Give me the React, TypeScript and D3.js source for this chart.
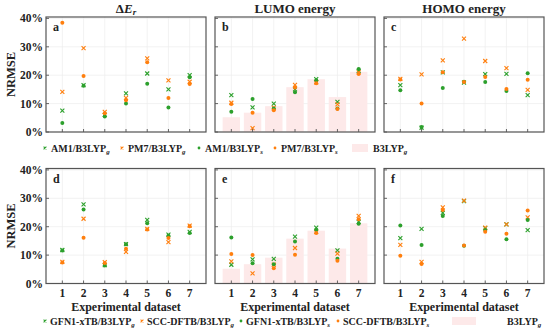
import React from 'react';
import * as d3 from 'd3';

const categories = ['1', '2', '3', '4', '5', '6', '7'];
const yTicks = [0, 10, 20, 30, 40];

// B3LYP_g bars (LUMO energy)
const b3lypLUMO = [5.2, 6.8, 9.1, 15.8, 18.6, 12.3, 21.2];

// Panel a: ΔE_r (semi-empirical)
const aAM1g = [7.5, 16.5, 6.0, 13.6, 20.6, 15.0, 20.0];
const aPM7g = [14.1, 29.5, 7.1, 12.0, 25.9, 18.2, 17.7];
const aAM1s = [3.2, 16.3, 5.5, 10.0, 17.0, 8.6, 19.3];
const aPM7s = [38.5, 19.7, 6.6, 11.2, 24.6, 12.0, 16.9];

// Panel b: LUMO energy
const bAM1g = [13.0, 8.7, 10.0, 15.0, 18.6, 10.6, 21.5];
const bPM7g = [10.3, 1.4, 8.6, 16.6, 17.5, 9.7, 21.0];
const bAM1s = [7.1, 11.6, 8.3, 14.0, 18.2, 8.3, 22.2];
const bPM7s = [9.9, 6.8, 7.7, 15.7, 17.2, 8.1, 20.4];

// Panel c: HOMO energy
const cAM1g = [16.5, 1.5, 21.0, 17.4, 20.4, 20.5, 13.0];
const cPM7g = [18.7, 20.3, 25.2, 32.9, 25.0, 22.5, 14.8];
const cAM1s = [14.7, 1.8, 15.5, 17.7, 17.6, 14.4, 20.7];
const cPM7s = [18.5, 10.0, 21.0, 17.6, 19.4, 15.1, 18.4];

// Panel d: ΔE_r (xTB / DFTB)
const dGFNg = [11.8, 27.9, 6.5, 13.9, 22.4, 17.2, 18.2];
const dSCCg = [7.6, 22.8, 7.5, 11.1, 19.2, 14.6, 20.4];
const dGFNs = [11.6, 26.1, 6.3, 13.8, 21.2, 16.8, 17.8];
const dSCCs = [7.4, 16.1, 7.2, 12.2, 19.0, 16.0, 20.2];

// Panel e: LUMO energy
const eGFNg = [6.6, 8.5, 8.7, 16.5, 19.7, 11.7, 21.7];
const eSCCg = [7.8, 3.6, 6.6, 12.5, 18.2, 10.5, 23.8];
const eGFNs = [16.2, 7.1, 6.8, 14.8, 18.8, 8.7, 21.0];
const eSCCs = [10.4, 10.0, 5.4, 10.1, 17.8, 8.0, 22.6];

// Panel f: HOMO energy
const fGFNg = [16.0, 19.2, 24.9, 29.0, 19.5, 20.8, 18.8];
const fSCCg = [13.6, 7.6, 26.8, 29.2, 19.7, 20.8, 23.3];
const fGFNs = [20.4, 13.6, 23.8, 13.3, 18.8, 15.6, 22.4];
const fSCCs = [9.8, 6.9, 25.9, 13.4, 18.2, 17.5, 25.7];

const GREEN = '#2ca02c';
const ORANGE = '#ff7f0e';
const PINK = '#fde9e9';
const FONT = '"Liberation Serif", "DejaVu Serif", serif';

const panelLefts = [46, 215, 384];
const panelW = 160;
const rows = [
  { top: 17, bottom: 132 },
  { top: 168.5, bottom: 283.5 },
];

type Series = { values: number[]; color: string; marker: 'x' | 'o' };

const panels = [
  { row: 0, col: 0, label: 'a', bars: null as number[] | null, series: [
    { values: aAM1g, color: GREEN, marker: 'x' }, { values: aPM7g, color: ORANGE, marker: 'x' },
    { values: aAM1s, color: GREEN, marker: 'o' }, { values: aPM7s, color: ORANGE, marker: 'o' }] as Series[] },
  { row: 0, col: 1, label: 'b', bars: b3lypLUMO, series: [
    { values: bAM1g, color: GREEN, marker: 'x' }, { values: bPM7g, color: ORANGE, marker: 'x' },
    { values: bAM1s, color: GREEN, marker: 'o' }, { values: bPM7s, color: ORANGE, marker: 'o' }] as Series[] },
  { row: 0, col: 2, label: 'c', bars: null, series: [
    { values: cAM1g, color: GREEN, marker: 'x' }, { values: cPM7g, color: ORANGE, marker: 'x' },
    { values: cAM1s, color: GREEN, marker: 'o' }, { values: cPM7s, color: ORANGE, marker: 'o' }] as Series[] },
  { row: 1, col: 0, label: 'd', bars: null, series: [
    { values: dGFNg, color: GREEN, marker: 'x' }, { values: dSCCg, color: ORANGE, marker: 'x' },
    { values: dGFNs, color: GREEN, marker: 'o' }, { values: dSCCs, color: ORANGE, marker: 'o' }] as Series[] },
  { row: 1, col: 1, label: 'e', bars: b3lypLUMO, series: [
    { values: eGFNg, color: GREEN, marker: 'x' }, { values: eSCCg, color: ORANGE, marker: 'x' },
    { values: eGFNs, color: GREEN, marker: 'o' }, { values: eSCCs, color: ORANGE, marker: 'o' }] as Series[] },
  { row: 1, col: 2, label: 'f', bars: null, series: [
    { values: fGFNg, color: GREEN, marker: 'x' }, { values: fSCCg, color: ORANGE, marker: 'x' },
    { values: fGFNs, color: GREEN, marker: 'o' }, { values: fSCCs, color: ORANGE, marker: 'o' }] as Series[] },
];

const Marker = ({ x, y, color, marker, s = 2.0 }: { x: number; y: number; color: string; marker: 'x' | 'o'; s?: number }) =>
  marker === 'x' ? (
    <path d={`M${x - s},${y - s}L${x + s},${y + s}M${x - s},${y + s}L${x + s},${y - s}`} stroke={color} strokeWidth={1.1} fill="none" />
  ) : (
    <circle cx={x} cy={y} r={s} fill={color} />
  );

const topLegend = [
  { x: 45, marker: 'x', color: GREEN, text: 'AM1/B3LYP', sub: 'g' },
  { x: 122, marker: 'x', color: ORANGE, text: 'PM7/B3LYP', sub: 'g' },
  { x: 199, marker: 'o', color: GREEN, text: 'AM1/B3LYP', sub: 's' },
  { x: 275, marker: 'o', color: ORANGE, text: 'PM7/B3LYP', sub: 's' },
];
const bottomLegend = [
  { x: 45, marker: 'x', color: GREEN, text: 'GFN1-xTB/B3LYP', sub: 'g' },
  { x: 142, marker: 'x', color: ORANGE, text: 'SCC-DFTB/B3LYP', sub: 'g' },
  { x: 241, marker: 'o', color: GREEN, text: 'GFN1-xTB/B3LYP', sub: 's' },
  { x: 338, marker: 'o', color: ORANGE, text: 'SCC-DFTB/B3LYP', sub: 's' },
];

export default function App() {
  return (
    <svg width={550} height={331} style={{ position: 'absolute', left: 0, top: 0, background: '#fff' }} fontFamily={FONT} fontWeight="bold">
      {panels.map((p) => {
        const left = panelLefts[p.col];
        const r = rows[p.row];
        const x = d3.scalePoint<string>().domain(categories).range([left, left + panelW]).padding(0.77);
        const y = d3.scaleLinear().domain([0, 40.5]).range([r.bottom, r.top]);
        const bw = x.step() * 0.82;
        return (
          <g key={p.label}>
            {yTicks.map((t) => (
              <line key={'gy' + t} x1={left} x2={left + panelW} y1={y(t)} y2={y(t)} stroke="#ededed" strokeWidth={0.7} />
            ))}
            {categories.map((c) => (
              <line key={'gx' + c} x1={x(c)} x2={x(c)} y1={r.top} y2={r.bottom} stroke="#ededed" strokeWidth={0.7} />
            ))}
            {p.bars && p.bars.map((v, i) => (
              <rect key={'b' + i} x={x(categories[i])! - bw / 2} y={y(v)} width={bw} height={y(0) - y(v)} fill={PINK} />
            ))}
            {p.series.map((s, si) =>
              s.values.map((v, i) => (
                <Marker key={si + '-' + i} x={x(categories[i])!} y={y(v)} color={s.color} marker={s.marker} />
              ))
            )}
            {categories.map((c) => (
              <line key={'tx' + c} x1={x(c)} x2={x(c)} y1={r.bottom} y2={r.bottom - 3} stroke="#555" strokeWidth={0.9} />
            ))}
            {yTicks.map((t) => (
              <line key={'ty' + t} x1={left} x2={left + 3} y1={y(t)} y2={y(t)} stroke="#555" strokeWidth={0.9} />
            ))}
            <rect x={left} y={r.top} width={panelW} height={r.bottom - r.top} fill="none" stroke="#555" strokeWidth={1.2} />
            <text x={left + 7} y={r.top + 14} fontSize={12} fill="#222">{p.label}</text>
            {p.col === 0 && yTicks.map((t) => (
              <text key={'yl' + t} x={left - 3} y={y(t)} dy="0.35em" textAnchor="end" fontSize={11.5} fill="#222">{t}%</text>
            ))}
            {p.row === 1 && categories.map((c) => (
              <text key={'xl' + c} x={x(c)} y={r.bottom + 13} textAnchor="middle" fontSize={11.5} fill="#222">{c}</text>
            ))}
            {p.row === 1 && (
              <text x={left + panelW / 2} y={r.bottom + 27} textAnchor="middle" fontSize={12} fill="#222">Experimental dataset</text>
            )}
            {p.col === 0 && (
              <text transform={`translate(15,${(r.top + r.bottom) / 2}) rotate(-90)`} textAnchor="middle" fontSize={12.5} fill="#222">NRMSE</text>
            )}
          </g>
        );
      })}
      <text x={126} y={12.5} textAnchor="middle" fontSize={13} fill="#222">
        Δ<tspan fontStyle="italic">E</tspan><tspan fontStyle="italic" fontSize={9} dy={2.5}>r</tspan>
      </text>
      <text x={295} y={12.5} textAnchor="middle" fontSize={13} fill="#222">LUMO energy</text>
      <text x={464} y={12.5} textAnchor="middle" fontSize={13} fill="#222">HOMO energy</text>

      {topLegend.map((l, i) => (
        <g key={'tl' + i}>
          <Marker x={l.x} y={148} color={l.color} marker={l.marker as 'x' | 'o'} s={1.4} />
          <text x={l.x + 6} y={151.5} fontSize={10} fill="#222">{l.text}<tspan fontSize={7} dy={2} fontStyle="italic">{l.sub}</tspan></text>
        </g>
      ))}
      <rect x={352} y={144} width={16} height={8} fill={PINK} />
      <text x={373} y={151.5} fontSize={10} fill="#222">B3LYP<tspan fontSize={7} dy={2} fontStyle="italic">g</tspan></text>

      {bottomLegend.map((l, i) => (
        <g key={'bl' + i}>
          <Marker x={l.x} y={321} color={l.color} marker={l.marker as 'x' | 'o'} s={1.4} />
          <text x={l.x + 5} y={324.5} fontSize={10} fill="#222">{l.text}<tspan fontSize={7} dy={2} fontStyle="italic">{l.sub}</tspan></text>
        </g>
      ))}
      <rect x={452} y={317} width={24} height={8} fill={PINK} />
      <text x={507} y={324.5} fontSize={10} fill="#222">B3LYP<tspan fontSize={7} dy={2} fontStyle="italic">g</tspan></text>
    </svg>
  );
}
